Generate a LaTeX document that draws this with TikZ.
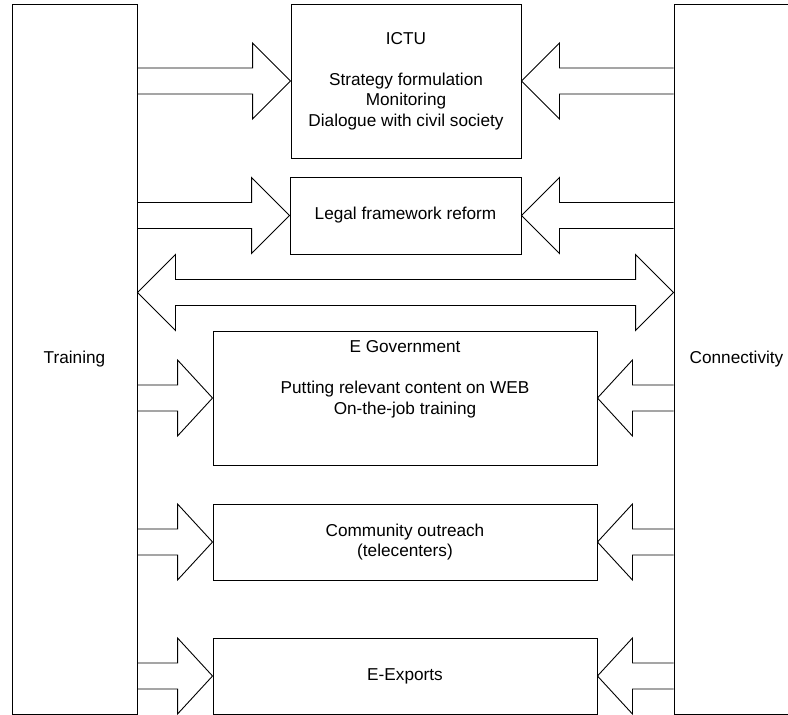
\documentclass[tikz,border=0pt]{standalone}
\usepackage{fontspec}
\setmainfont{Liberation Sans}
\usetikzlibrary{positioning,calc}

\tikzset{
  box/.style={draw, rectangle, line width=0.9pt, align=center},
  fatarrow/.style={line width=0.9pt, to path={
    let \p1=(\tikztostart), \p2=(\tikztotarget), \n1={sign(\x2-\x1)} in
    (\x1,\y2+13pt) -- (\x2-\n1*#1,\y2+13pt) -- (\x2-\n1*#1,\y2+38pt) -- (\x2,\y2)
    -- (\x2-\n1*#1,\y2-38pt) -- (\x2-\n1*#1,\y2-13pt) -- (\x1,\y2-13pt)}},
  fatarrow/.default=38pt,
  fatboth/.style={line width=0.9pt, to path={
    let \p1=(\tikztostart), \p2=(\tikztotarget) in
    (\x1,\y1) -- (\x1+38pt,\y1+38pt) -- (\x1+38pt,\y1+13pt) -- (\x2-38pt,\y1+13pt)
    -- (\x2-38pt,\y1+38pt) -- (\x2,\y2) -- (\x2-38pt,\y1-38pt) -- (\x2-38pt,\y1-13pt)
    -- (\x1+38pt,\y1-13pt) -- (\x1+38pt,\y1-38pt) -- cycle}}
}

\begin{document}
\begin{tikzpicture}[x=1pt, y=-1pt, font=\fontsize{17.2}{20.5}\selectfont]
    \path [use as bounding box, clip] (0,0) rectangle (788,715);

    % Nodes {train, conn, ictu, legal, egov, comm, exp}
    \node [box, minimum width=125pt, minimum height=710pt] (train) at (74.5,359)   {Training};
    \node [box, minimum width=125pt, minimum height=710pt] (conn)  at (736.5,359)  {Connectivity};
    \node [box, minimum width=230pt, minimum height=154pt] (ictu)  at (406,81)
          {ICTU\\[20.5pt]Strategy formulation\\Monitoring\\Dialogue with civil society};
    \node [box, minimum width=231pt, minimum height=77pt]  (legal) at (405.5,215.5) {Legal framework reform};
    \node [box, minimum width=384pt, minimum height=134pt] (egov)  at (405,398)    {};
    \node [inner sep=0pt, align=center] (egovtext) [below=10pt of egov.north]
          {E Government\\[20.5pt]Putting relevant content on WEB\\On-the-job training};
    \node [box, minimum width=384pt, minimum height=76pt]  (comm)  at (405,542)    {Community outreach\\(telecenters)};
    \node [box, minimum width=384pt, minimum height=76pt]  (exp)   at (405,676)    {E-Exports};
    \coordinate (both) at (405,292.5);

    % Paths
    \draw [fatarrow]      (train.east |- ictu.west)  to (ictu.west);
    \draw [fatarrow]      (conn.west  |- ictu.east)  to (ictu.east);
    \draw [fatarrow]      (train.east |- legal.west) to (legal.west);
    \draw [fatarrow]      (conn.west  |- legal.east) to (legal.east);
    \draw [fatboth]       (train.east |- both)       to (conn.west |- both);
    \draw [fatarrow=35pt] (train.east |- egov.west)  to (egov.west);
    \draw [fatarrow=35pt] (conn.west  |- egov.east)  to (egov.east);
    \draw [fatarrow=35pt] (train.east |- comm.west)  to (comm.west);
    \draw [fatarrow=35pt] (conn.west  |- comm.east)  to (comm.east);
    \draw [fatarrow=35pt] (train.east |- exp.west)   to (exp.west);
    \draw [fatarrow=35pt] (conn.west  |- exp.east)   to (exp.east);
\end{tikzpicture}
\end{document}
